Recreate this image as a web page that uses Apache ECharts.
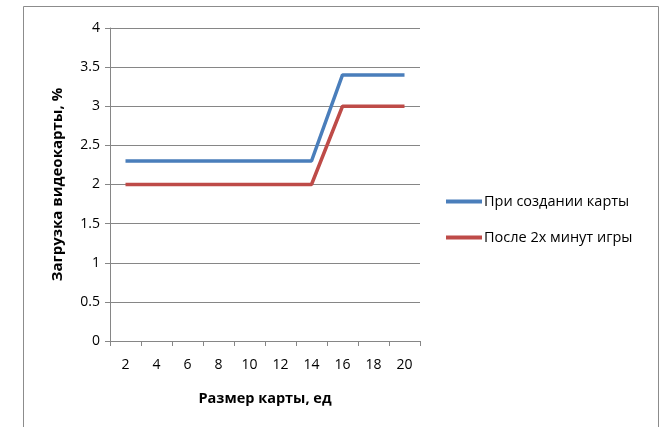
<!DOCTYPE html>
<html>
<head>
<meta charset="utf-8">
<script src="https://cdn.jsdelivr.net/npm/echarts@6/dist/echarts.min.js"></script>
<style>
  html, body { margin: 0; padding: 0; background: #fff; }
  #chart { width: 667px; height: 427px; }
</style>
</head>
<body>
<div id="chart"></div>
<script>
// Map sizes along the x axis
const mapSizes = ['2', '4', '6', '8', '10', '12', '14', '16', '18', '20'];
// GPU load right after the map is created, %
const loadOnCreate = [2.3, 2.3, 2.3, 2.3, 2.3, 2.3, 2.3, 3.4, 3.4, 3.4];
// GPU load after two minutes of play, %
const loadAfterPlay = [2.0, 2.0, 2.0, 2.0, 2.0, 2.0, 2.0, 3.0, 3.0, 3.0];
const seriesNames = ['При создании карты', 'После 2х минут игры'];

const font = 'Open Sans, Noto Sans, sans-serif';
const chart = echarts.init(document.getElementById('chart'), null, { renderer: 'canvas' });

chart.setOption({
  animation: false,
  backgroundColor: '#fff',
  graphic: [{
    type: 'rect',
    shape: { x: 23.5, y: 6.5, width: 635, height: 440 },
    style: { fill: 'none', stroke: '#8c8c8c', lineWidth: 1 },
    silent: true
  }],
  grid: { left: 110, top: 28, right: 247, bottom: 86, containLabel: false },
  legend: {
    orient: 'vertical',
    left: 446,
    top: 194,
    padding: 0,
    icon: 'rect',
    itemWidth: 36,
    itemHeight: 4,
    itemGap: 21,
    textStyle: { fontFamily: font, fontSize: 14.5, color: '#000', padding: [0, 0, 0, -3] },
    data: seriesNames
  },
  xAxis: {
    type: 'category',
    data: mapSizes,
    boundaryGap: true,
    name: 'Размер карты, ед',
    nameLocation: 'middle',
    nameGap: 50,
    nameTextStyle: { fontFamily: font, fontSize: 14.5, fontWeight: 'bold', color: '#000' },
    axisLine: { lineStyle: { color: '#868686', width: 1 } },
    axisTick: { show: true, interval: 0, length: 5, lineStyle: { color: '#868686' } },
    axisLabel: { fontFamily: font, fontSize: 14, color: '#000', margin: 17, interval: 0 },
    splitLine: { show: false }
  },
  yAxis: {
    type: 'value',
    min: 0,
    max: 4,
    interval: 0.5,
    name: 'Загрузка видеокарты, %',
    nameLocation: 'middle',
    nameGap: 45,
    nameRotate: 90,
    nameTextStyle: { fontFamily: font, fontSize: 15, fontWeight: 'bold', color: '#000' },
    axisLine: { show: true, lineStyle: { color: '#868686', width: 1 } },
    axisTick: { show: true, length: 5, lineStyle: { color: '#868686' } },
    axisLabel: { fontFamily: font, fontSize: 14, color: '#000', margin: 10 },
    splitLine: { show: true, lineStyle: { color: '#868686', width: 1 } }
  },
  series: [
    {
      name: seriesNames[0],
      type: 'line',
      data: loadOnCreate,
      symbol: 'none',
      lineStyle: { color: '#4a7ebb', width: 3.5 },
      itemStyle: { color: '#4a7ebb' }
    },
    {
      name: seriesNames[1],
      type: 'line',
      data: loadAfterPlay,
      symbol: 'none',
      lineStyle: { color: '#be4b48', width: 3.5 },
      itemStyle: { color: '#be4b48' }
    }
  ]
});
</script>
</body>
</html>
